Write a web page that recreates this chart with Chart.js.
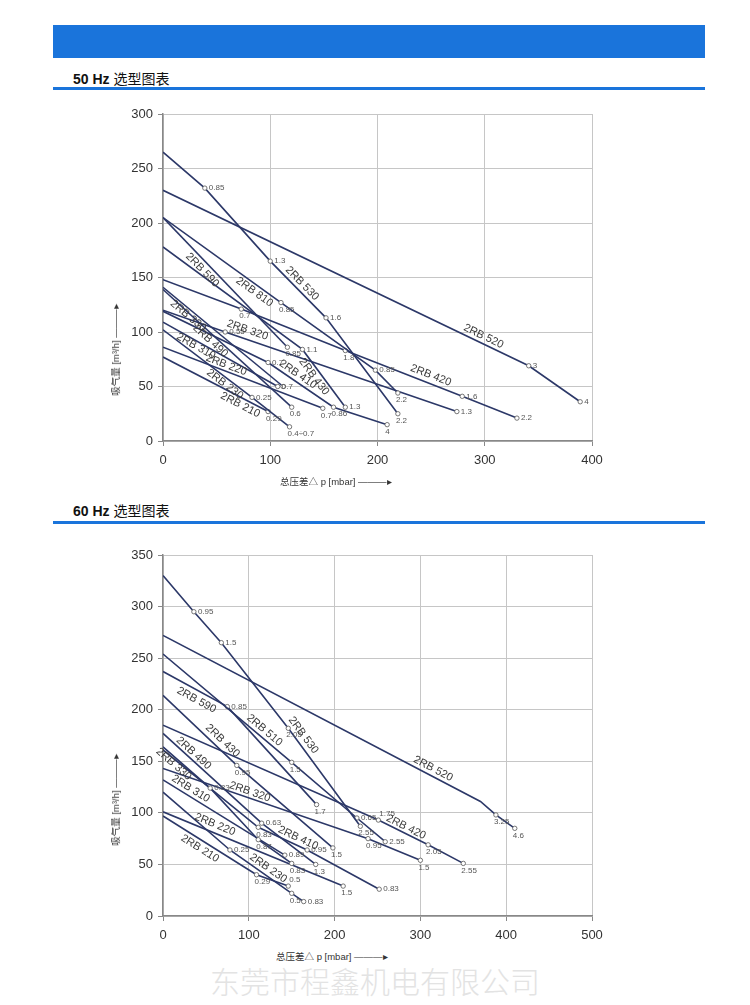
<!DOCTYPE html>
<html>
<head>
<meta charset="utf-8">
<script src="https://cdn.jsdelivr.net/npm/chart.js@4"></script>
<style>
  body { margin: 0; background: #fff; }
  #page { position: relative; width: 750px; height: 1005px; overflow: hidden; font-family: "Liberation Sans", "Noto Sans CJK SC", sans-serif; }
  .bar { position: absolute; left: 53px; top: 25px; width: 652px; height: 33px; background: #1a74db; }
  .head { position: absolute; left: 73px; font-size: 14px; color: #111; }
  .head b { font-weight: bold; }
  .rule { position: absolute; left: 53px; width: 652px; height: 3px; background: #1a74db; }
  canvas { position: absolute; left: 100px; }
  .ytitle { position: absolute; left: 115px; font-size: 9.5px; color: #333; white-space: nowrap; transform: translate(-50%, -50%) rotate(-90deg); }
  .xtitle { position: absolute; font-size: 9.5px; color: #333; white-space: nowrap; }
  .mark { position: absolute; left: 0; width: 750px; top: 958px; text-align: center; font-size: 30px; color: #e3e3e3; font-family: "Noto Sans CJK SC", sans-serif; font-weight: 300; }
</style>
</head>
<body>
<div id="page">
  <div class="bar"></div>
  <div class="head" style="top:68px"><b>50 Hz</b> 选型图表</div>
  <div class="rule" style="top:87px"></div>
  <canvas id="c50" width="510" height="380" style="top:100px"></canvas>
  <div class="ytitle" style="top:350px">吸气量 [m³/h] ———▸</div>
  <div class="xtitle" style="left:280px;top:474px">总压差△ p [mbar] ———▸</div>

  <div class="head" style="top:500px"><b>60 Hz</b> 选型图表</div>
  <div class="rule" style="top:521px"></div>
  <canvas id="c60" width="510" height="400" style="top:540px"></canvas>
  <div class="ytitle" style="top:800px">吸气量 [m³/h] ———▸</div>
  <div class="xtitle" style="left:276px;top:949px">总压差△ p [mbar] ———▸</div>

  <div class="mark">东莞市程鑫机电有限公司</div>
</div>

<script>
// 50 Hz curves: pressure difference (mbar) -> suction flow (m3/h), motor kW at the marks
const names50 = ["2RB 530", "2RB 520", "2RB 810", "2RB 590", "2RB 430", "2RB 420", "2RB 330",
                 "2RB 490", "2RB 320", "2RB 310", "2RB 220", "2RB 230", "2RB 210", "2RB 410"];
const dp50 = [
  [0, 39, 100, 152, 219],
  [0, 341, 389],
  [0, 110, 198, 219],
  [0, 116],
  [0, 130, 170],
  [0, 73, 170, 279, 330],
  [0, 112],
  [0, 120],
  [0, 58, 274],
  [0, 107],
  [0, 149],
  [0, 83, 118],
  [0, 98],
  [0, 98, 159, 209]
];
const q50 = [
  [265, 232, 165, 113, 25],
  [230, 69, 36],
  [205, 127, 65, 44],
  [205, 86],
  [178, 84, 31],
  [148, 121, 83, 41, 21],
  [141, 50],
  [139, 31],
  [120, 100, 27],
  [109, 50],
  [86, 30],
  [102, 40, 13],
  [77, 27],
  [119, 72, 31, 15]
];
const kw50 = [
  [null, "0.85", "1.3", "1.6", "2.2"],
  [null, "3", "4"],
  [null, "0.85", "0.85", "2.2"],
  [null, "0.85"],
  [null, "1.1", "1.3"],
  [null, "0.7", "1.8", "1.6", "2.2"],
  [null, ""],
  [null, "0.6"],
  [null, "0.55", "1.3"],
  [null, "0.7"],
  [null, "0.7"],
  [null, "0.25", "0.4÷0.7"],
  [null, "0.29"],
  [null, "0.7", "0.86", "4"]
];

// 60 Hz curves
const names60 = ["2RB 530", "2RB 520", "2RB 510", "2RB 590", "2RB 430", "2RB 420", "2RB 490",
                 "2RB 330", "2RB 410", "2RB 320", "2RB 310", "2RB 230", "2RB 220", "2RB 210"];
const dp60 = [
  [0, 36, 68, 146, 230],
  [0, 370, 388, 410],
  [0, 150, 226, 259],
  [0, 75, 179],
  [0, 86, 198],
  [0, 251, 309, 350],
  [0, 115, 178],
  [0, 55, 111, 150],
  [0, 111, 168, 252],
  [0, 239, 300],
  [0, 142],
  [0, 78, 150, 164],
  [0, 210],
  [0, 109, 146]
];
const q60 = [
  [330, 295, 265, 182, 87],
  [272, 111, 98, 85],
  [254, 149, 95, 72],
  [237, 203, 108],
  [214, 146, 66],
  [185, 93, 69, 51],
  [177, 90, 50],
  [164, 124, 74, 51],
  [161, 86, 64, 26],
  [143, 75, 54],
  [132, 59],
  [120, 64, 22, 14],
  [101, 29],
  [97, 40, 29]
];
const kw60 = [
  [null, "0.95", "1.5", "2.05", "2.55"],
  [null, null, "3.25", "4.6"],
  [null, "1.5", "0.65", "2.55"],
  [null, "0.85", "1.7"],
  [null, "0.95", "1.5"],
  [null, "1.75", "2.05", "2.55"],
  [null, "0.63", "1.3"],
  [null, "0.83", "0.87", "0.83"],
  [null, "0.83", "0.95", "0.83"],
  [null, "0.95", "1.5"],
  [null, "0.89"],
  [null, "0.25", "0.5", "0.83"],
  [null, "1.5"],
  [null, "0.29", "0.5"]
];

// layout only: where the kW text sits next to a mark (r = right, b = below, a = above)
const side50 = [
  [null, "r", "r", "r", "b"], [null, "r", "r"], [null, "b", "r", "b"], [null, "b"],
  [null, "r", "r"], [null, "b", "b", "r", "r"], [null, "r"], [null, "b"], [null, "r", "r"],
  [null, "r"], [null, "b"], [null, "r", "b"], [null, "b"], [null, "r", "b", "b"]
];
const side60 = [
  [null, "r", "r", "b", "b"], [null, null, "b", "b"], [null, "b", "r", "r"], [null, "r", "b"],
  [null, "b", "b"], [null, "a", "b", "b"], [null, "r", "b"], [null, "r", "b", "b"],
  [null, "b", "r", "r"], [null, "b", "b"], [null, "r"], [null, "r", "b", "r"], [null, "b"],
  [null, "b", "a"]
];
// layout only: curve name drawn along the line at [mbar, perpendicular offset px]
const place50 = [[125, -7], [296, -7], [89, 7], [42, 8], [146, 7], [247, -8], [27, 6],
                 [48, 6], [76, -9], [33, 5], [57, -6], [61, 6], [75, 7], [122, -7]];
const place60 = [[156, -8], [311, -7], [113, -7], [44, 9], [63, -8], [280, -6], [31, -6],
                 [17, 6], [154, -7], [99, -6], [28, -7], [118, -7], [57, -8], [48, 8]];

const LINE = "#2c3868";
Chart.defaults.font.family = '"Liberation Sans", Arial, sans-serif';

const curveLabels = {
  id: "curveLabels",
  afterDatasetsDraw(chart) {
    const ctx = chart.ctx;
    const xs = chart.scales.x, ys = chart.scales.y;
    chart.data.datasets.forEach((ds, i) => {
      const meta = chart.getDatasetMeta(i);
      ctx.save();
      ctx.font = '8px "Liberation Sans", Arial, sans-serif';
      ctx.fillStyle = "#555";
      ds.data.forEach((p, j) => {
        const t = ds.power[j];
        if (!t) return;
        const el = meta.data[j];
        const s = ds.side[j];
        if (s === "b") {
          ctx.textAlign = "left"; ctx.textBaseline = "top";
          ctx.fillText(t, el.x - 2, el.y + 3);
        } else if (s === "a") {
          ctx.textAlign = "left"; ctx.textBaseline = "bottom";
          ctx.fillText(t, el.x + 1, el.y - 2);
        } else {
          ctx.textAlign = "left"; ctx.textBaseline = "middle";
          ctx.fillText(t, el.x + 4, el.y);
        }
      });
      ctx.restore();

      // curve name along the line
      const at = ds.place[0], off = ds.place[1];
      const d = ds.data;
      let k = 0;
      while (k < d.length - 2 && d[k + 1].x < at) k++;
      const p0 = d[k], p1 = d[k + 1];
      const f = (at - p0.x) / (p1.x - p0.x);
      const yv = p0.y + f * (p1.y - p0.y);
      const ang = Math.atan2(ys.getPixelForValue(p1.y) - ys.getPixelForValue(p0.y),
                             xs.getPixelForValue(p1.x) - xs.getPixelForValue(p0.x));
      ctx.save();
      ctx.translate(xs.getPixelForValue(at), ys.getPixelForValue(yv));
      ctx.rotate(ang);
      ctx.font = '11px "Liberation Sans", Arial, sans-serif';
      ctx.fillStyle = "#3a3a3a";
      ctx.textAlign = "center";
      ctx.textBaseline = "middle";
      ctx.fillText(ds.label, 0, off);
      ctx.restore();
    });
  }
};

function makeChart(id, names, dp, q, kw, side, place, xMax, yMax, padTop, xHeight) {
  const datasets = names.map((n, i) => ({
    label: n,
    data: dp[i].map((x, j) => ({ x: x, y: q[i][j] })),
    power: kw[i],
    side: side[i],
    place: place[i],
    showLine: true,
    borderColor: LINE,
    borderWidth: 1.6,
    pointRadius: kw[i].map(p => p === null ? 0 : 2.2),
    pointBackgroundColor: "#fff",
    pointBorderColor: "#666",
    pointBorderWidth: 0.9
  }));

  return new Chart(document.getElementById(id), {
    type: "scatter",
    data: { datasets: datasets },
    options: {
      responsive: false,
      animation: false,
      layout: { padding: { top: padTop, right: 18, left: 0, bottom: 0 } },
      plugins: { legend: { display: false }, tooltip: { enabled: false } },
      scales: {
        x: {
          type: "linear", min: 0, max: xMax,
          ticks: { stepSize: 100, padding: 7, color: "#333", font: { size: 13 } },
          grid: { color: "#c6c6c6", tickLength: 5, tickColor: "#888" },
          border: { color: "#888", width: 1.5 },
          afterFit: s => { s.height = xHeight; }
        },
        y: {
          type: "linear", min: 0, max: yMax,
          ticks: { stepSize: 50, padding: 5, color: "#333", font: { size: 13 } },
          grid: { color: "#c6c6c6", tickLength: 5, tickColor: "#888" },
          border: { color: "#888", width: 1.5 },
          afterFit: s => { s.width = 63; }
        }
      }
    },
    plugins: [curveLabels]
  });
}

makeChart("c50", names50, dp50, q50, kw50, side50, place50, 400, 300, 14, 39);
makeChart("c60", names60, dp60, q60, kw60, side60, place60, 500, 350, 15, 24);
</script>
</body>
</html>
